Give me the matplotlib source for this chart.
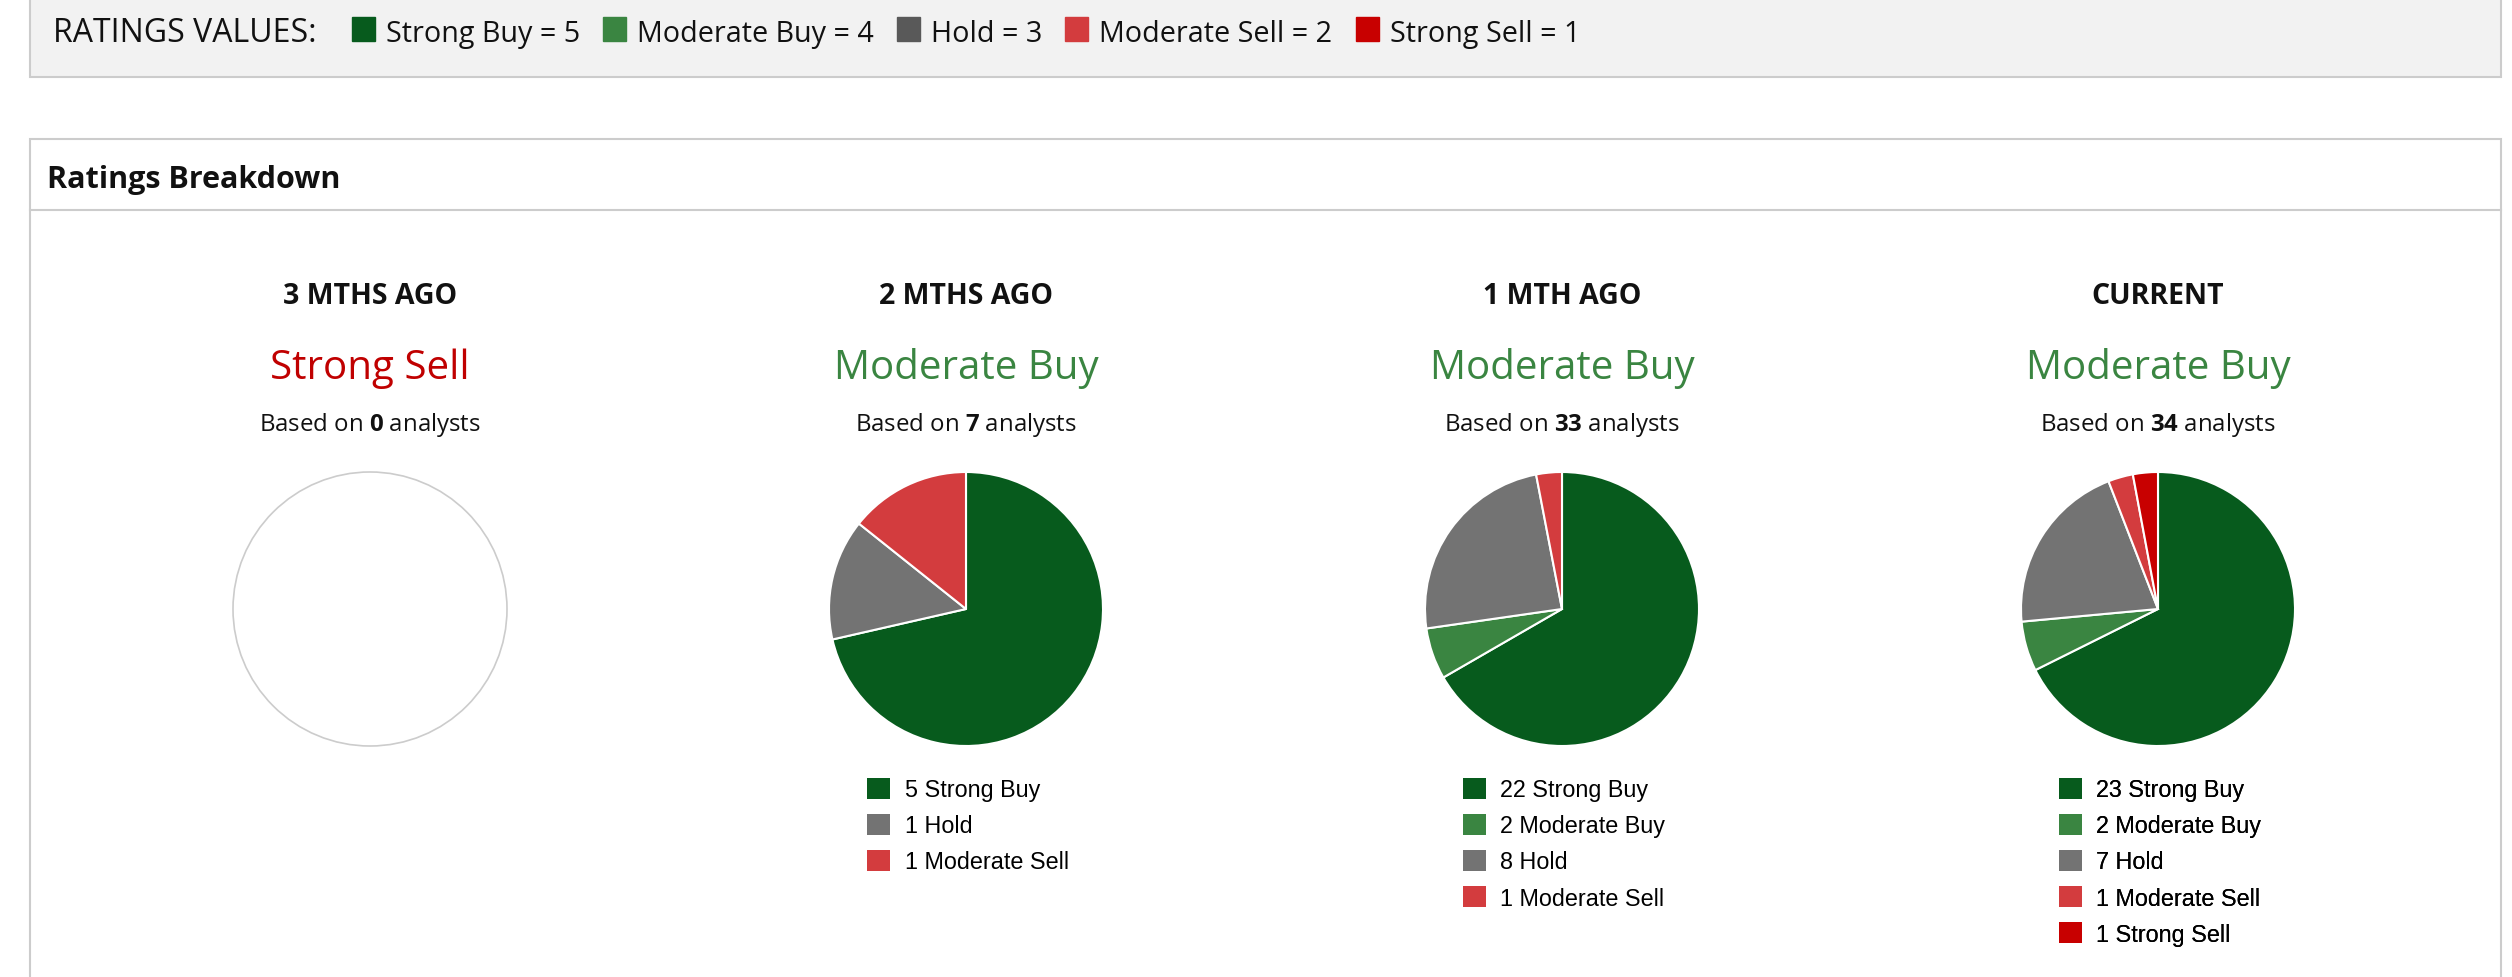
import matplotlib
matplotlib.use("Agg")
import matplotlib.pyplot as plt
from matplotlib.patches import Rectangle, Circle, Patch

# ratings key
rating_names = ["Strong Buy", "Moderate Buy", "Hold", "Moderate Sell", "Strong Sell"]
rating_values = [5, 4, 3, 2, 1]

# breakdown per period
periods = ["3 MTHS AGO", "2 MTHS AGO", "1 MTH AGO", "CURRENT"]
consensus = ["Strong Sell", "Moderate Buy", "Moderate Buy", "Moderate Buy"]
analysts = [0, 7, 33, 34]
strong_buy = [0, 5, 22, 23]
moderate_buy = [0, 0, 2, 2]
hold = [0, 1, 8, 7]
moderate_sell = [0, 1, 1, 1]
strong_sell = [0, 0, 0, 1]

pie_colors = ["#075b1d", "#3a8541", "#737373", "#d33c3e", "#c80000"]
key_colors = ["#075b1d", "#3a8541", "#595959", "#d33c3e", "#c80000"]
consensus_colors = {"Strong Sell": "#c00000", "Moderate Buy": "#3a8541"}

plt.rcParams['font.family'] = ['Open Sans', 'DejaVu Sans']
plt.rcParams['mathtext.fontset'] = 'custom'
plt.rcParams['mathtext.rm'] = 'Open Sans'
plt.rcParams['mathtext.bf'] = 'Open Sans:bold'

W, H = 2512, 978
fig = plt.figure(figsize=(W / 100, H / 100), dpi=100)
ax = fig.add_axes([0, 0, 1, 1])
ax.set_xlim(0, W)
ax.set_ylim(0, H)
renderer = fig.canvas.get_renderer()

def Y(y):
    return H - y

border = "#cccccc"

# top key box
ax.add_patch(Rectangle((30, Y(78)), 2471, 90, facecolor="#f2f2f2", edgecolor=border, lw=1.5))
ax.text(53, Y(42.3), "RATINGS VALUES:", fontsize=23, va="baseline", color="#111111")
x = 352
for name, val, col in zip(rating_names, rating_values, key_colors):
    ax.add_patch(Rectangle((x, Y(42)), 23, 24, color=col))
    t = ax.text(x + 34, Y(42.3), f"{name} = {val}", fontsize=20.7, va="baseline", color="#111111")
    x = ax.transData.inverted().transform(t.get_window_extent(renderer))[1][0] + 23

# breakdown box
ax.add_patch(Rectangle((30, Y(1000)), 2471, 860, facecolor="white", edgecolor=border, lw=1.5))
ax.plot([30, 2501], [Y(211), Y(211)], color=border, lw=1.5)
ax.text(47, Y(188), "Ratings Breakdown", fontsize=22, weight="bold", va="baseline", color="#111111")

counts = list(zip(strong_buy, moderate_buy, hold, moderate_sell, strong_sell))
for i, period in enumerate(periods):
    cx = 370 + 596 * i
    ax.text(cx, Y(304), period, fontsize=20.5, weight="bold", ha="center", va="baseline", color="#111111")
    ax.text(cx, Y(379), consensus[i], fontsize=29, ha="center", va="baseline",
            color=consensus_colors[consensus[i]])
    ax.text(cx, Y(430.7), r"Based on $\mathbf{%d}$ analysts" % analysts[i], fontsize=17.3,
            ha="center", va="baseline", color="#111111")

    vals = [v for v in counts[i] if v > 0]
    cols = [c for v, c in zip(counts[i], pie_colors) if v > 0]
    names = [n for v, n in zip(counts[i], rating_names) if v > 0]
    if not vals:
        ax.add_patch(Circle((cx, Y(610)), 137, facecolor="none", edgecolor=border, lw=1.2))
        continue
    ax.pie(vals, colors=cols, startangle=90, counterclock=False, center=(cx, Y(610)), radius=137,
           wedgeprops=dict(edgecolor="white", linewidth=1.5))
    handles = [Patch(facecolor=c, edgecolor="none") for c in cols]
    labels = [f"{v} {n}" for v, n in zip(vals, names)]
    leg = ax.legend(handles, labels, loc="upper center", bbox_to_anchor=(cx + 2, Y(779)),
                    bbox_transform=ax.transData, frameon=False, borderpad=0, borderaxespad=0,
                    handlelength=1.0, handleheight=1.0, handletextpad=0.62, labelspacing=0.54,
                    prop={"family": "Liberation Sans", "size": 16.8})
    ax.add_artist(leg)

ax.set_xlim(0, W)
ax.set_ylim(0, H)
ax.set_aspect("auto")
ax.axis("off")

fig.savefig("out.png", dpi=100, facecolor="white")
